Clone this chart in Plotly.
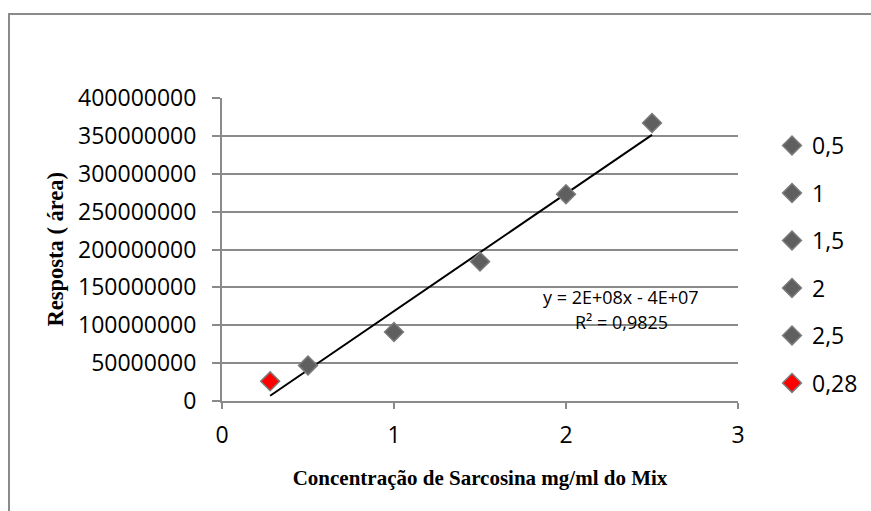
import numpy as np
import plotly.graph_objects as go

# Data
concentrations = [0.5, 1.0, 1.5, 2.0, 2.5, 0.28]
responses = [47000000, 91000000, 184000000, 273000000, 367000000, 26000000]
series_names = ["0,5", "1", "1,5", "2", "2,5", "0,28"]
fill_colors = ["#5f5f5f", "#5f5f5f", "#5f5f5f", "#5f5f5f", "#5f5f5f", "#ff0000"]
y_ticks = [0, 50000000, 100000000, 150000000, 200000000, 250000000,
           300000000, 350000000, 400000000]
x_ticks = [0, 1, 2, 3]
equation_text = "y = 2E+08x - 4E+07"
r2_text = "R² = 0,9825"

W, H = 871, 511
L, R, T, B = 222, 738, 98, 401

fig = go.Figure()

# trendline
slope, intercept = np.polyfit(concentrations, responses, 1)
xs = np.array([min(concentrations), max(concentrations)])
fig.add_trace(go.Scatter(x=xs, y=slope * xs + intercept, mode="lines",
                         line=dict(color="black", width=2), showlegend=False,
                         hoverinfo="skip"))

for x, y, name, c in zip(concentrations, responses, series_names, fill_colors):
    fig.add_trace(go.Scatter(
        x=[x], y=[y], mode="markers", name=name, legendgroup=name,
        marker=dict(symbol="diamond", size=14.5, color=c,
                    line=dict(color="#7a7a7a", width=1.5))))

gray = "#8a8a8a"
sans = "Open Sans, Carlito, Calibri, sans-serif"
tickfont = dict(family=sans, size=23, color="black")
serif = "Liberation Serif, Times New Roman, serif"
titlefont = dict(family=serif, size=21, color="black")
ytitlefont = dict(family=serif, size=22.5, color="black")

fig.update_layout(
    width=W, height=H,
    margin=dict(l=L, r=W - R, t=T, b=H - B, pad=0, autoexpand=False),
    paper_bgcolor="white", plot_bgcolor="white",
    showlegend=True,
    legend=dict(x=(772 - L) / (R - L), y=(B - 124) / (B - T), xanchor="left", yanchor="top",
                font=tickfont, tracegroupgap=14.6, bgcolor="rgba(0,0,0,0)", borderwidth=0),
    xaxis=dict(range=[0, 3], tickvals=x_ticks, ticktext=[str(v) for v in x_ticks],
               showgrid=False, zeroline=False, showline=True, linecolor=gray, linewidth=2,
               ticks="outside", ticklen=6, tickcolor=gray, tickwidth=2,
               tickfont=tickfont, ticklabelstandoff=6, automargin=False,
               title=dict(text="<b>Concentração de Sarcosina mg/ml do Mix</b>",
                          font=titlefont, standoff=22)),
    yaxis=dict(range=[0, 400000000], tickvals=y_ticks, ticktext=[str(v) for v in y_ticks],
               showgrid=True, gridcolor=gray, gridwidth=2, zeroline=False,
               showline=True, linecolor=gray, linewidth=2,
               ticks="outside", ticklen=8, tickcolor=gray, tickwidth=2,
               tickfont=tickfont, ticklabelstandoff=11, automargin=False),
    annotations=[
        dict(x=(55 - L) / (R - L), y=0.5, xref="paper", yref="paper",
             text="<b>Resposta ( área)</b>", textangle=-90, showarrow=False,
             xanchor="center", yanchor="middle", font=ytitlefont),
        dict(x=2.32, y=137000000, xref="x", yref="y", text=equation_text, showarrow=False,
             font=dict(family=sans, size=18, color="black")),
        dict(x=2.32, y=104000000, xref="x", yref="y", text=r2_text, showarrow=False,
             font=dict(family=sans, size=18, color="black")),
    ],
    shapes=[dict(type="rect", xref="paper", yref="paper",
                 x0=(9 - L) / (R - L), x1=(W + 20 - L) / (R - L),
                 y0=(B - (H + 20)) / (B - T), y1=(B - 14) / (B - T),
                 line=dict(color=gray, width=2), layer="below")],
)

fig.write_html("out.html")
